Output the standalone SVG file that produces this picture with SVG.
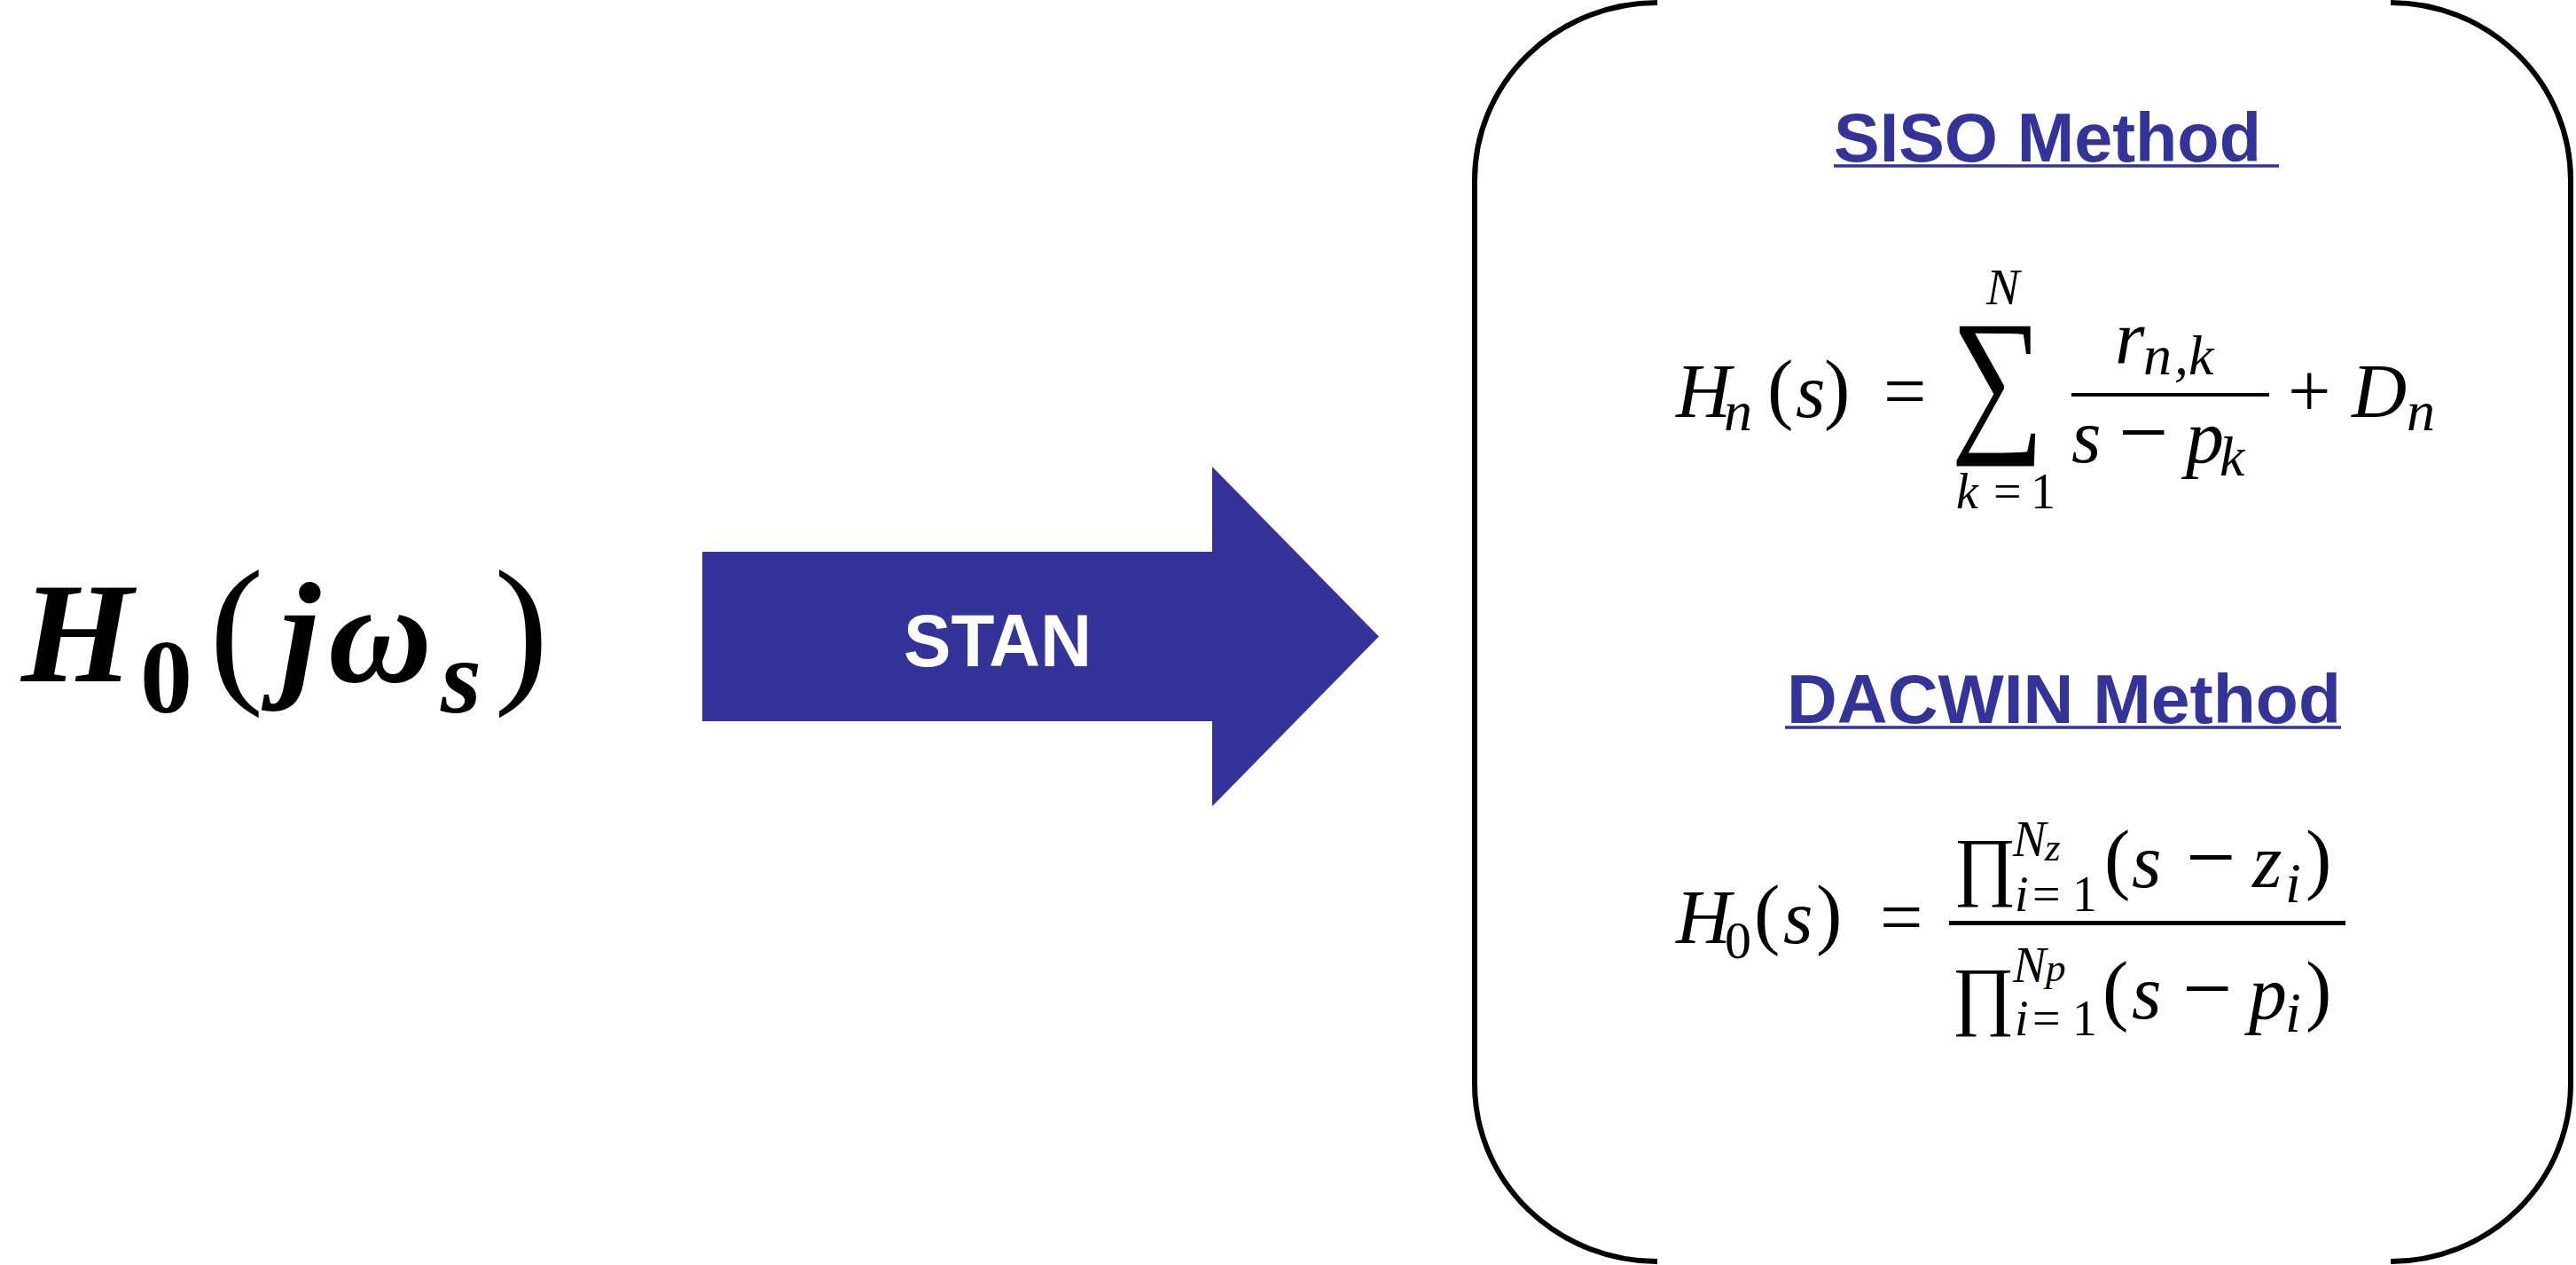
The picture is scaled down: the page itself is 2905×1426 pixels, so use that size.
<svg xmlns="http://www.w3.org/2000/svg" width="2905" height="1426" viewBox="0 0 2905 1426">
<style>
text{font-family:"Liberation Serif","Times New Roman",serif;fill:#000}
.bi{font-weight:bold;font-style:italic;font-size:162px}
.bsub{font-weight:bold;font-size:118px}
.bsubi{font-weight:bold;font-style:italic;font-size:118px}
.bp{font-size:185px}
.mi{font-style:italic;font-size:86px}
.mu{font-size:86px}
.mn{font-size:100px}
.big{font-size:148px}
.p{font-size:88px}
.si{font-style:italic;font-size:64px}
.su{font-size:60px}
.li{font-style:italic;font-size:56px}
.lu{font-size:56px}
.ti{font-style:italic;font-size:45px}
.head{font-family:"Liberation Sans",Arial,sans-serif;font-weight:bold;fill:#333399}
.stan{font-family:"Liberation Sans",Arial,sans-serif;font-weight:bold;font-size:84px;fill:#fff}
.ul{stroke:#333399;stroke-width:3.5}
.brk{fill:none;stroke:#000;stroke-width:6}
</style>
<rect width="2905" height="1426" fill="#fff"/>
<g id="input">
<text class="bi" x="24" y="768">H</text>
<text class="bsub" x="158" y="803">0</text>
<text class="bp" x="236" y="770">(</text>
<text class="bi" x="316" y="768">j</text>
<text class="bi" x="370" y="768">ω</text>
<text class="bsubi" x="497" y="803">s</text>
<text class="bp" x="557" y="770">)</text>
</g>
<g id="connectors">
<g id="stan-arrow">
<polygon points="792,622 1367,622 1367,526 1555,717.5 1367,909 1367,813 792,813" fill="#333399"/>
<text class="stan" x="1125" y="751" text-anchor="middle" textLength="212" lengthAdjust="spacingAndGlyphs">STAN</text>
</g>
</g>
<g id="result">
<path class="brk" d="M1869,3 A206,200 0 0 0 1663,203 L1663,1222 A206,200 0 0 0 1869,1422"/>
<path class="brk" d="M2696,3 A203,200 0 0 1 2899,203 L2899,1222 A203,200 0 0 1 2696,1422"/>
<g id="siso">
<text class="head" x="2068" y="182" font-size="77" textLength="482" lengthAdjust="spacingAndGlyphs">SISO Method</text>
<line class="ul" x1="2068" y1="187" x2="2570" y2="187"/>
<text class="mi" x="1890" y="470">H</text>
<text class="si" x="1944" y="485">n</text>
<text class="p" x="1993" y="467">(</text>
<text class="mi" x="2025" y="470">s</text>
<text class="p" x="2057" y="467">)</text>
<text class="mu" x="2124" y="470">=</text>
<text class="big" transform="translate(2200,487) scale(1,1.23)">∑</text>
<text class="li" x="2240" y="343">N</text>
<text class="li" x="2206" y="573">k</text>
<text class="lu" x="2248" y="573">=</text>
<text class="lu" x="2290" y="573">1</text>
<rect x="2336" y="443" width="223" height="4"/>
<text class="mi" x="2385" y="410">r</text>
<text class="si" x="2417" y="422">n</text>
<text class="si" x="2452" y="422">,</text>
<text class="si" x="2468" y="422">k</text>
<text class="mi" x="2336" y="521">s</text>
<text class="mn" x="2389" y="521">−</text>
<text class="mi" x="2465" y="521">p</text>
<text class="si" x="2503" y="536">k</text>
<text class="mu" x="2580" y="470">+</text>
<text class="mi" x="2652" y="470">D</text>
<text class="si" x="2714" y="485">n</text>
</g>
<g id="dacwin">
<text class="head" x="2015" y="815" font-size="78" textLength="625" lengthAdjust="spacingAndGlyphs">DACWIN Method</text>
<line class="ul" x1="2013" y1="820" x2="2640" y2="820"/>
<text class="mi" x="1890" y="1063">H</text>
<text class="su" x="1945" y="1080">0</text>
<text class="p" x="1978" y="1059">(</text>
<text class="mi" x="2011" y="1063">s</text>
<text class="p" x="2048" y="1059">)</text>
<text class="mu" x="2120" y="1063">=</text>
<rect x="2198" y="1038" width="447" height="5"/>
<text class="mu" x="2203" y="1004">∏</text>
<text class="li" x="2270" y="965">N</text>
<text class="ti" x="2306" y="970">z</text>
<text class="li" x="2272" y="1027">i</text>
<text class="lu" x="2292" y="1027">=</text>
<text class="lu" x="2337" y="1027">1</text>
<text class="p" x="2373" y="997">(</text>
<text class="mi" x="2404" y="1000">s</text>
<text class="mn" x="2465" y="1000">−</text>
<text class="mi" x="2540" y="1000">z</text>
<text class="si" x="2577" y="1017">i</text>
<text class="p" x="2600" y="997">)</text>
<text class="mu" x="2201" y="1150">∏</text>
<text class="li" x="2270" y="1107">N</text>
<text class="ti" x="2307" y="1106">p</text>
<text class="li" x="2272" y="1167">i</text>
<text class="lu" x="2292" y="1167">=</text>
<text class="lu" x="2337" y="1167">1</text>
<text class="p" x="2371" y="1145">(</text>
<text class="mi" x="2404" y="1148">s</text>
<text class="mn" x="2461" y="1148">−</text>
<text class="mi" x="2536" y="1148">p</text>
<text class="si" x="2577" y="1163">i</text>
<text class="p" x="2600" y="1145">)</text>
</g>
</g>
</svg>
